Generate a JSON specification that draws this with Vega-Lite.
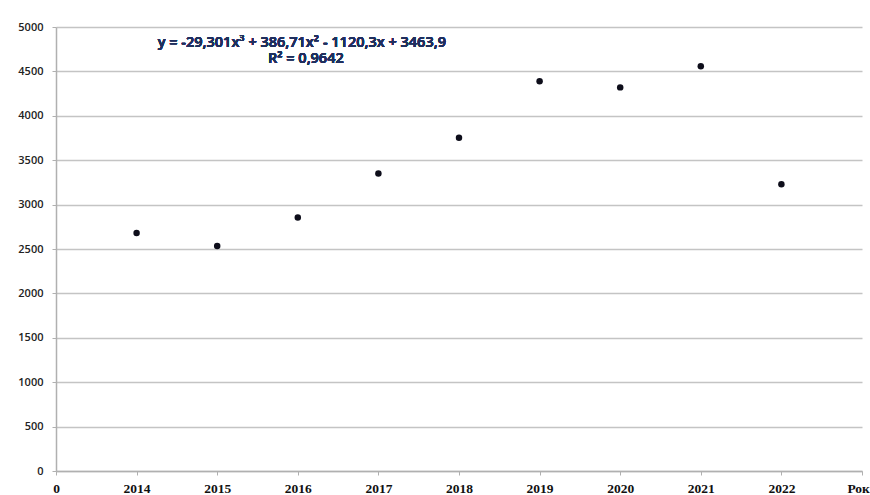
{
  "$schema": "https://vega.github.io/schema/vega-lite/v6.json",
  "autosize": "none",
  "width": 806,
  "height": 444,
  "padding": {"left": 56, "top": 27, "right": 8, "bottom": 24},
  "background": "white",
  "config": {"view": {"stroke": null}},
  "data": {
    "values": [
      {"year": 2014, "value": 2681},
      {"year": 2015, "value": 2535},
      {"year": 2016, "value": 2854},
      {"year": 2017, "value": 3349},
      {"year": 2018, "value": 3754},
      {"year": 2019, "value": 4388},
      {"year": 2020, "value": 4320},
      {"year": 2021, "value": 4557},
      {"year": 2022, "value": 3229}
    ]
  },
  "layer": [
    {
      "mark": {"type": "point", "filled": true, "opacity": 1, "color": "#0d0d1a", "size": 42},
      "encoding": {
        "x": {
          "field": "year",
          "type": "quantitative",
          "scale": {"domain": [2013, 2023], "nice": false, "zero": false},
          "axis": {
            "title": null,
            "values": [2013, 2014, 2015, 2016, 2017, 2018, 2019, 2020, 2021, 2022, 2023],
            "labelExpr": "datum.value == 2013 ? '0' : datum.value == 2023 ? 'Роки' : datum.value + ''",
            "grid": false,
            "domainColor": "#b0b0b0",
            "domainWidth": 1.5,
            "tickColor": "#b0b0b0",
            "tickSize": 4,
            "tickWidth": 1,
            "labelFont": "Liberation Serif",
            "labelFontWeight": "bold",
            "labelFontSize": 13.5,
            "labelColor": "#111111",
            "labelPadding": 6,
            "labelFlush": false,
            "labelOverlap": false
          }
        },
        "y": {
          "field": "value",
          "type": "quantitative",
          "scale": {"domain": [0, 5000], "nice": false},
          "axis": {
            "title": null,
            "values": [0, 500, 1000, 1500, 2000, 2500, 3000, 3500, 4000, 4500, 5000],
            "format": "d",
            "grid": true,
            "gridColor": "#c4c4c4",
            "gridWidth": 1.5,
            "domainColor": "#b0b0b0",
            "domainWidth": 1.5,
            "tickColor": "#b0b0b0",
            "tickSize": 4,
            "labelFont": "Open Sans",
            "labelFontWeight": 600,
            "labelFontSize": 11,
            "labelColor": "#222222",
            "labelPadding": 9
          }
        }
      }
    },
    {
      "mark": {
        "type": "text",
        "text": "y = -29,301x³ + 386,71x² - 1120,3x + 3463,9",
        "font": "Open Sans",
        "fontWeight": 600,
        "fontSize": 14.5,
        "color": "#1f2f5e",
        "align": "center",
        "baseline": "middle"
      },
      "encoding": {
        "x": {"datum": 2016.05, "type": "quantitative"},
        "y": {"datum": 4825, "type": "quantitative"}
      }
    },
    {
      "mark": {
        "type": "text",
        "text": "R² = 0,9642",
        "font": "Open Sans",
        "fontWeight": 600,
        "fontSize": 14.5,
        "color": "#1f2f5e",
        "align": "center",
        "baseline": "middle"
      },
      "encoding": {
        "x": {"datum": 2016.1, "type": "quantitative"},
        "y": {"datum": 4635, "type": "quantitative"}
      }
    }
  ]
}
